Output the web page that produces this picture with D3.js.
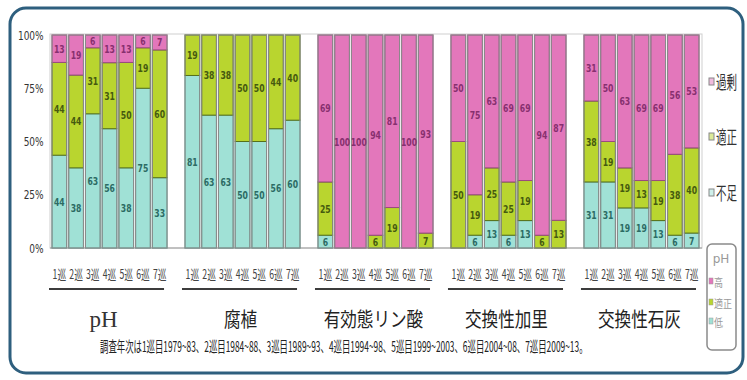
<!DOCTYPE html>
<html><head><meta charset="utf-8">
<script src="https://cdn.jsdelivr.net/npm/d3@7"></script>
<style>body{margin:0;background:#fff} svg{display:block}</style>
</head><body><svg id="chart" width="747" height="380"></svg>
<script>
// Soil survey rounds and items
const rounds = ["1巡","2巡","3巡","4巡","5巡","6巡","7巡"];
const items = ["pH","腐植","有効態リン酸","交換性加里","交換性石灰"];
const levels = ["不足","適正","過剰"];
const phLevels = ["高","適正","低"];
const tickLabels = ["0%","25%","50%","75%","100%"];
const note = "調査年次は1巡目1979~83、2巡目1984~88、3巡目1989~93、4巡目1994~98、5巡目1999~2003、6巡目2004~08、7巡目2009~13。";

// Share of fields (%) per level; one row per item, one value per round
const lowValues = [
  [44,38,63,56,38,75,33],
  [81,63,63,50,50,56,60],
  [6,0,0,0,0,0,0],
  [0,6,13,6,13,0,0],
  [31,31,19,19,13,6,7]
];
const okValues = [
  [44,44,31,31,50,19,60],
  [19,38,38,50,50,44,40],
  [25,0,0,6,19,0,7],
  [50,19,25,25,19,6,13],
  [38,19,19,13,19,38,40]
];
const highValues = [
  [13,19,6,13,13,6,7],
  [0,0,0,0,0,0,0],
  [69,100,100,94,81,100,93],
  [50,75,63,69,69,94,87],
  [31,50,63,69,69,56,53]
];

const fills = {"不足":"#a0e1d6","適正":"#b9d52f","過剰":"#e377bb"};
const edges = {"不足":"#5c9a8f","適正":"#55701a","過剰":"#9a4a80"};
const inks  = {"不足":"#2c6b64","適正":"#45590f","過剰":"#87306f"};

const rows = [];
items.forEach((item,i)=>rounds.forEach((r,j)=>rows.push({
  item, round:r, "不足":lowValues[i][j], "適正":okValues[i][j], "過剰":highValues[i][j]
})));

const svg = d3.select("#chart");
const cjk = "'Noto Sans CJK JP','Noto Sans CJK SC',sans-serif";
const narrow = "'DejaVu Sans Condensed','Liberation Sans Narrow','DejaVu Sans',sans-serif";

// Place a text so that it spans the given width, squeezing the glyphs horizontally
function fitText(parent, str, x, y, width, size, family, fill, anchor){
  const t = parent.append("text").attr("font-family",family).attr("font-size",size)
    .attr("fill",fill).text(str);
  const w = t.node().getComputedTextLength() || width;
  const s = width / w;
  const left = anchor === "middle" ? x - width/2 : x;
  t.attr("transform",`translate(${left},${y}) scale(${s},1)`);
  return t;
}

// outer frame
svg.append("rect").attr("x",10).attr("y",8).attr("width",733).attr("height",365)
  .attr("rx",16).attr("fill","#fff").attr("stroke","#2e5f7e").attr("stroke-width",3);

const x0 = d3.scaleBand().domain(items).range([52,699]).paddingInner(0.135);
const x1 = d3.scaleBand().domain(rounds).range([0,x0.bandwidth()]).paddingInner(0.12);
const y = d3.scaleLinear().domain([0,1]).range([248,35]);

// plot frame
svg.append("rect").attr("x",50).attr("y",34).attr("width",652).attr("height",214)
  .attr("fill","none").attr("stroke","#cfcfcf");
svg.append("line").attr("x1",50).attr("x2",702).attr("y1",248).attr("y2",248)
  .attr("stroke","#9a9a9a");

// y axis
const yAxis = svg.append("g").attr("transform","translate(50,0)")
  .call(d3.axisLeft(y).tickValues([0,.25,.5,.75,1]).tickFormat((d,i)=>tickLabels[i])
    .tickSize(0).tickPadding(8));
yAxis.select(".domain").remove();
yAxis.selectAll("text").attr("font-family",narrow).attr("font-size",12.5)
  .attr("fill","#333").attr("transform","scale(0.8,1)");

// stacked 100% bars
const stack = d3.stack().keys(levels).offset(d3.stackOffsetExpand);
const series = stack(rows);
const bars = svg.append("g");
series.forEach(s=>{
  const key = s.key;
  s.forEach(d=>{
    const v = d.data[key];
    if(!v) return;
    const bx = x0(d.data.item)+x1(d.data.round);
    const y0 = y(d[0]), y1v = y(d[1]);
    bars.append("rect").attr("x",bx).attr("y",y1v).attr("width",x1.bandwidth())
      .attr("height",y0-y1v).attr("fill",fills[key])
      .attr("stroke",edges[key]).attr("stroke-width",1);
  });
});
// outer gray outline of each bar
rows.forEach(d=>{
  bars.append("rect").attr("x",x0(d.item)+x1(d.round)).attr("y",y(1))
    .attr("width",x1.bandwidth()).attr("height",y(0)-y(1))
    .attr("fill","none").attr("stroke","#8c8c8c").attr("stroke-width",1);
});
// value labels
series.forEach(s=>{
  const key = s.key;
  s.forEach(d=>{
    const v = d.data[key];
    if(!v) return;
    const cx = x0(d.data.item)+x1(d.data.round)+x1.bandwidth()/2;
    const cy = (y(d[0])+y(d[1]))/2;
    bars.append("text").attr("transform",`translate(${cx},${cy+4}) scale(0.78,1)`)
      .attr("text-anchor","middle").attr("font-family",narrow).attr("font-size",11)
      .attr("font-weight","bold").attr("fill",inks[key]).text(v);
  });
});

// round labels, underlines and item titles
items.forEach(item=>{
  rounds.forEach(r=>{
    const cx = x0(item)+x1(r)+x1.bandwidth()/2;
    fitText(svg, r, cx, 279, 13.5, 13, cjk, "#444", "middle");
  });
  svg.append("line").attr("x1",x0(item)-3).attr("x2",x0(item)+x0.bandwidth()-3)
    .attr("y1",289).attr("y2",289).attr("stroke","#3c3c3c").attr("stroke-width",2);
  const cx = x0(item)+x0.bandwidth()/2-2;
  if(item==="pH"){
    svg.append("text").attr("x",cx-4).attr("y",327).attr("text-anchor","middle")
      .attr("font-family","'Liberation Serif','DejaVu Serif',serif").attr("font-size",23)
      .attr("fill","#333").text(item);
  } else {
    fitText(svg, item, cx, 327, item.length*16.6, 20, cjk, "#222", "middle");
  }
});

// survey-period note
fitText(svg, note, 100, 352, 488, 15, cjk, "#222", "start");

// level legend
const legY = {"過剰":82,"適正":137,"不足":193};
levels.forEach(k=>{
  const c = legY[k];
  svg.append("rect").attr("x",709).attr("y",c-4).attr("width",5).attr("height",7)
    .attr("fill",fills[k]).attr("fill-opacity",0.5).attr("stroke","#888");
  fitText(svg, k, 716, c+7, 21, 18, cjk, "#333", "start");
});

// pH level key
svg.append("rect").attr("x",707).attr("y",244).attr("width",29).attr("height",106)
  .attr("rx",5).attr("fill","#fff").attr("stroke","#8a8a8a").attr("stroke-width",1.5);
svg.append("text").attr("x",721).attr("y",263).attr("text-anchor","middle")
  .attr("font-family","'DejaVu Sans',sans-serif").attr("font-size",12).attr("fill","#999").text("pH");
const phY = [282,303,322];
const phFills = [fills["過剰"],fills["適正"],fills["不足"]];
phLevels.forEach((k,i)=>{
  const c = phY[i];
  svg.append("rect").attr("x",709).attr("y",c-4).attr("width",4).attr("height",6)
    .attr("fill",phFills[i]).attr("stroke","#999").attr("stroke-width",0.5);
  fitText(svg, k, 714, c+5, k.length*9, 11, cjk, "#999", "start");
});
</script></body></html>
